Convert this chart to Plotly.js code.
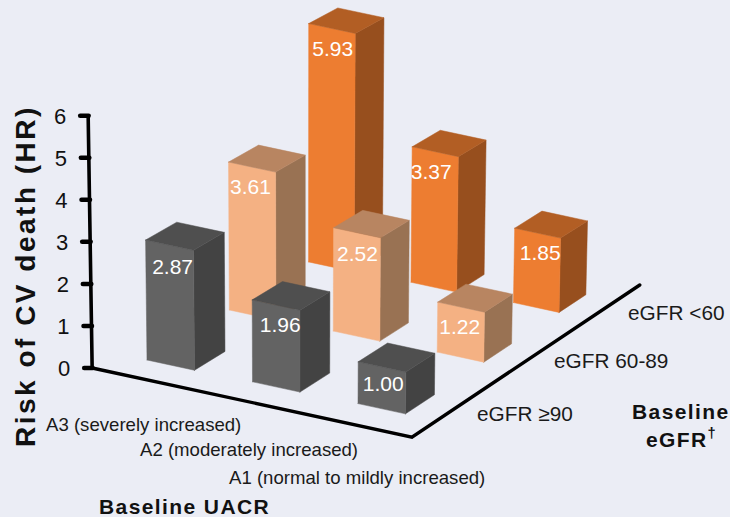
<!DOCTYPE html>
<html>
<head>
<meta charset="utf-8">
<script src="https://cdn.plot.ly/plotly-3.0.1.min.js"></script>
<style>
html,body{margin:0;padding:0;background:#ebedf5;}
#chart{width:730px;height:517px;}
.scatterlayer .js-line{stroke-linecap:round;}
text.annotation-text[style*="font-size: 21px"][style*="700"]{letter-spacing:1.4px;}
text.annotation-text[style*="font-size: 28px"]{letter-spacing:2.5px;}
</style>
</head>
<body>
<div id="chart"></div>
<script>
// Hazard ratios by albuminuria (rows) and kidney function (columns)
const uacrCategories = ["A3 (severely increased)", "A2 (moderately increased)", "A1 (normal to mildly increased)"];
const egfrCategories = ["eGFR ≥90", "eGFR 60-89", "eGFR <60"];
const hazardA3 = [2.87, 3.61, 5.93];
const hazardA2 = [1.96, 2.52, 3.37];
const hazardA1 = [1.00, 1.22, 1.85];
const valueTicks = [0, 1, 2, 3, 4, 5, 6];
const hazardRows = [hazardA3, hazardA2, hazardA1];

// Face colours per eGFR column: front, top, side
const palette = [
  {front: "#636363", top: "#4f4f4f", side: "#434343"},
  {front: "#f4b183", top: "#b88561", side: "#997253"},
  {front: "#ed7d31", top: "#b25e24", side: "#974f1e"}
];

// Projection from (uacr index, egfr index, height) to page pixels
const view = {x0: 147, y0: 360, ax: 105.5, ay: 22.8, bx: 84, by: -51, hz: 41.8, k: 0.02, cx: 300, tilt: 0.0032};
function project(a, b, h) {
  const s = 1 / (1 + view.k * b);
  const px = view.x0 + s * (a * view.ax + b * view.bx);
  const py = view.y0 + s * (a * view.ay + b * view.by - h * view.hz);
  return [px + (px - view.cx) * h * view.tilt, py];
}
// A bar corner keeps the grid cell's small offset so the footprint stays rigid
function barPoint(row, col, da, db, h) {
  const p = project(row + da, col + db, h);
  return [p[0] + 0.5 * row * col, p[1] - row * (1 + 0.3 * col)];
}

const barW = 0.45, barD = 0.37;
const axisA = -0.29, axisB = -0.285, cornerA = 2.724, endB = 2.77;
// Placement of each value label on its bar's front face, by row and column
const labelDx = [[27, 22, 24], [28, 24, 19], [25, 22, 25.5]];
const labelDy = [[29, 27, 27], [27, 28, 27], [24, 27, 27]];

function polygon(points, color) {
  const closed = points.concat([points[0]]);
  return {
    x: closed.map(p => p[0]), y: closed.map(p => p[1]),
    mode: "lines", fill: "toself", fillcolor: color,
    line: {color: color, width: 0.5},
    hoverinfo: "skip", showlegend: false
  };
}
function stroke(points, width) {
  return {
    x: points.map(p => p[0]), y: points.map(p => p[1]),
    mode: "lines", line: {color: "#000", width: width},
    hoverinfo: "skip", showlegend: false
  };
}

const traces = [];

// Floor edges and the value axis
traces.push(stroke([project(axisA, axisB, 0), project(cornerA, axisB, 0), project(cornerA, endB, 0)], 3.4));
traces.push(stroke([project(axisA, axisB, 0), project(axisA, axisB, valueTicks[valueTicks.length - 1])], 3.6));
valueTicks.forEach(t => {
  const p = project(axisA, axisB, t);
  traces.push(stroke([[p[0] - 8, p[1]], [p[0] + 0.5, p[1]]], 4.5));
});
traces.push({
  x: valueTicks.map(t => project(axisA, axisB, t)[0] - 28),
  y: valueTicks.map(t => project(axisA, axisB, t)[1] + 2.5),
  text: valueTicks.map(String),
  mode: "text", textposition: "middle center",
  textfont: {family: "Liberation Sans", size: 22, color: "#111"},
  hoverinfo: "skip", showlegend: false
});

// Bars, painted from the far corner towards the viewer
for (let b = 2; b >= 0; b--) {
  for (let a = 0; a < 3; a++) {
    const h = hazardRows[a][b], c = palette[b];
    traces.push(polygon([barPoint(a, b, barW, 0, 0), barPoint(a, b, barW, barD, 0), barPoint(a, b, barW, barD, h), barPoint(a, b, barW, 0, h)], c.side));
    traces.push(polygon([barPoint(a, b, 0, 0, 0), barPoint(a, b, barW, 0, 0), barPoint(a, b, barW, 0, h), barPoint(a, b, 0, 0, h)], c.front));
    traces.push(polygon([barPoint(a, b, 0, 0, h), barPoint(a, b, barW, 0, h), barPoint(a, b, barW, barD, h), barPoint(a, b, 0, barD, h)], c.top));
  }
}

// Value labels on the front faces
const labelX = [], labelY = [], labelText = [];
hazardRows.forEach((row, a) => row.forEach((h, b) => {
  const p = barPoint(a, b, 0, 0, h);
  labelX.push(p[0] + labelDx[a][b]);
  labelY.push(p[1] + labelDy[a][b]);
  labelText.push(h.toFixed(2));
}));
traces.push({
  x: labelX, y: labelY, text: labelText,
  mode: "text", textposition: "middle center",
  textfont: {family: "Liberation Sans", size: 21, color: "#fff"},
  hoverinfo: "skip", showlegend: false
});

const uacrFont = {family: "Liberation Sans", size: 18.6, color: "#1a1a1a"};
const egfrFont = {family: "Liberation Sans", size: 20.8, color: "#1a1a1a"};
const boldFont = {family: "Liberation Sans", size: 21, color: "#111", weight: 700};
function note(text, x, y, font, anchor, angle) {
  return {text: text, x: x, y: y, xref: "x", yref: "y", showarrow: false,
          xanchor: anchor || "left", yanchor: "middle", font: font, textangle: angle || 0};
}
const annotations = [
  note(uacrCategories[0], 44, 424, uacrFont),
  note(uacrCategories[1], 138, 449, uacrFont),
  note(uacrCategories[2], 227, 477, uacrFont),
  note(egfrCategories[0], 475, 413, egfrFont),
  note(egfrCategories[1], 552, 360, egfrFont),
  note(egfrCategories[2], 626, 312, egfrFont),
  note("Baseline UACR", 184, 506, boldFont, "center"),
  note("Baseline", 681, 411, boldFont, "center"),
  note("eGFR<sup>†</sup>", 681, 438, boldFont, "center"),
  note("Risk of CV death (HR)", 25, 276, {family: "Liberation Sans", size: 28, color: "#111", weight: 700}, "center", -90)
];

const layout = {
  width: 730, height: 517,
  margin: {l: 0, r: 0, t: 0, b: 0},
  paper_bgcolor: "#ebedf5", plot_bgcolor: "#ebedf5",
  xaxis: {range: [0, 730], visible: false, fixedrange: true},
  yaxis: {range: [517, 0], visible: false, fixedrange: true},
  showlegend: false,
  annotations: annotations
};

Plotly.newPlot("chart", traces, layout, {displayModeBar: false, staticPlot: true});
</script>
</body>
</html>
